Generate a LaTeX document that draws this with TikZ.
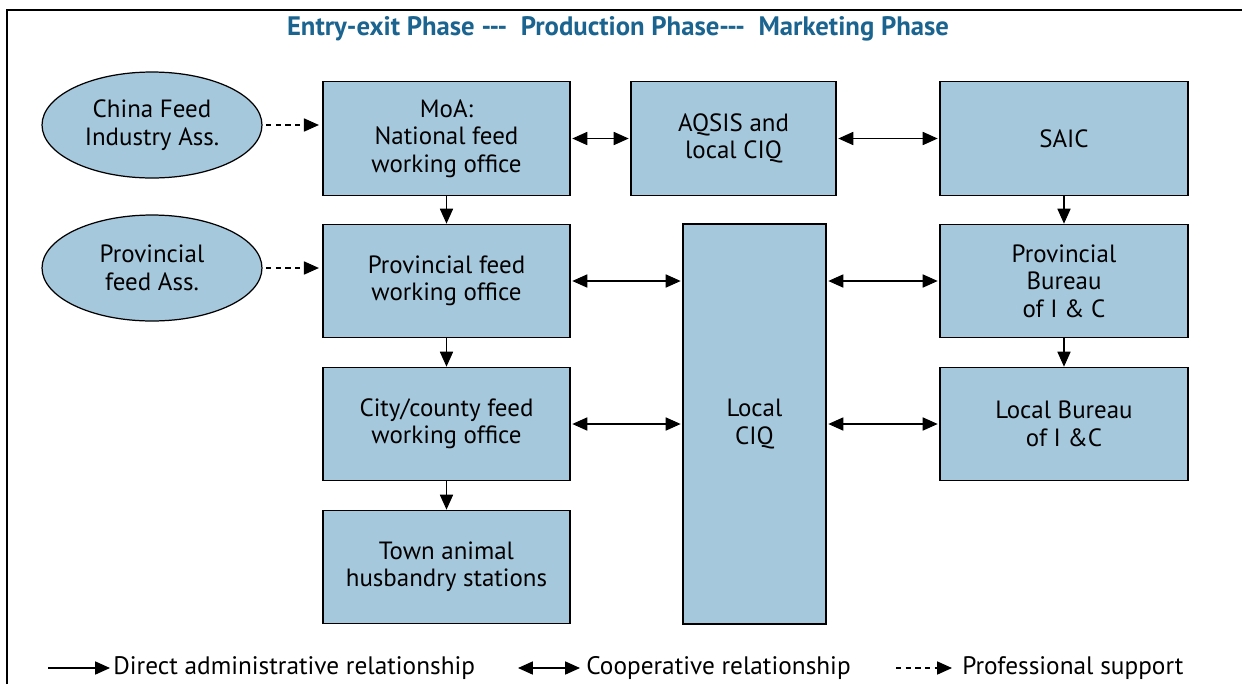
\documentclass[tikz,border=0pt]{standalone}
\usepackage{fontspec}
\setmainfont{PT Sans}
\usetikzlibrary{arrows.meta,shapes.geometric,positioning}

\definecolor{boxblue}{HTML}{A5C8DC}
\definecolor{titleblue}{HTML}{1B6490}

\tikzset{
    office/.style={draw,fill=boxblue,line width=0.7pt,align=center,inner sep=0pt,
        minimum width=4.94cm,minimum height=2.27cm,font=\fontsize{14.2}{15.6}\selectfont},
    assoc/.style={ellipse,draw,fill=boxblue,line width=0.7pt,align=center,inner sep=0pt,
        minimum width=4.4cm,minimum height=2.12cm,font=\fontsize{14.2}{15.6}\selectfont},
    admin/.style={-{Triangle[length=8.5pt,width=7.5pt]},line width=0.6pt},
    coop/.style={{Triangle[length=8.5pt,width=7.5pt]}-{Triangle[length=8.5pt,width=7.5pt]},line width=0.6pt,
        shorten <=1pt,shorten >=1pt},
    support/.style={-{Triangle[length=8.5pt,width=7.5pt]},line width=0.6pt,dash pattern=on 3pt off 2.5pt,
        shorten <=2pt,shorten >=2pt},
    legend/.style={anchor=west,inner sep=0pt,font=\fontsize{14.4}{15.6}\selectfont}
}

\begin{document}
\begin{tikzpicture}[x=0.02cm,y=-0.02cm]
    \useasboundingbox (0,0) rectangle (1242,684);
    % frame
    \draw[line width=0.7pt] (7,684) -- (7,10) -- (1242,10);
    \node[font=\bfseries\fontsize{15.2}{16}\selectfont,text=titleblue] (title) at (618,29)
        {Entry-exit Phase -{}-{}-\ \ Production Phase-{}-{}-\ \ Marketing Phase};

    % left column
    \node[assoc] (cfia) at (152,125) {China Feed\\Industry Ass.};
    \node[assoc] (pfa) at (152,268) {Provincial\\feed Ass.};

    % feed working offices
    \node[office] (moa) at (446.5,138.5) {MoA:\\National feed\\working office};
    \node[office] (prov) at (446.5,281) {Provincial feed\\working office};
    \node[office] (city) at (446.5,424) {City/county feed\\working office};
    \node[office] (town) at (446.5,567) {Town animal\\husbandry stations};

    % inspection
    \node[office,minimum width=4.1cm] (aqsis) at (733.5,138.5) {AQSIS and\\local CIQ};
    \node[office,minimum width=2.86cm,minimum height=8cm] (ciq) at (754.5,424) {Local\\CIQ};

    % industry and commerce
    \node[office,minimum width=4.96cm] (saic) at (1064,138.5) {SAIC};
    \node[office,minimum width=4.96cm] (pbur) at (1064,281) {Provincial\\Bureau\\of I \& C};
    \node[office,minimum width=4.96cm] (lbur) at (1064,424) {Local Bureau\\of I \&C};

    \draw[support] (cfia.east) -- (cfia.east -| moa.west);
    \draw[support] (pfa.east) -- (pfa.east -| prov.west);

    \draw[admin] (moa) -- (prov);
    \draw[admin] (prov) -- (city);
    \draw[admin] (city) -- (town);
    \draw[admin] (saic) -- (pbur);
    \draw[admin] (pbur) -- (lbur);

    \draw[coop] (moa) -- (aqsis);
    \draw[coop] (aqsis) -- (saic);
    \draw[coop] (prov.east) -- (prov.east -| ciq.west);
    \draw[coop] (city.east) -- (city.east -| ciq.west);
    \draw[coop] (pbur.west -| ciq.east) -- (pbur.west);
    \draw[coop] (lbur.west -| ciq.east) -- (lbur.west);

    % legend
    \coordinate (l1a) at (48,668);
    \coordinate (l1b) at (110,668);
    \coordinate (l2a) at (518,668);
    \coordinate (l2b) at (580,668);
    \coordinate (l3a) at (896,668);
    \coordinate (l3b) at (952,668);
    \draw[admin] (l1a) -- (l1b);
    \draw[coop,shorten <=0pt,shorten >=0pt] (l2a) -- (l2b);
    \draw[support,shorten <=0pt,shorten >=0pt] (l3a) -- (l3b);
    \node[legend] (dir) at (113,668) {Direct administrative relationship};
    \node[legend] (co) at (586,668) {Cooperative relationship};
    \node[legend] (pro) at (962,668) {Professional support};
\end{tikzpicture}
\end{document}
